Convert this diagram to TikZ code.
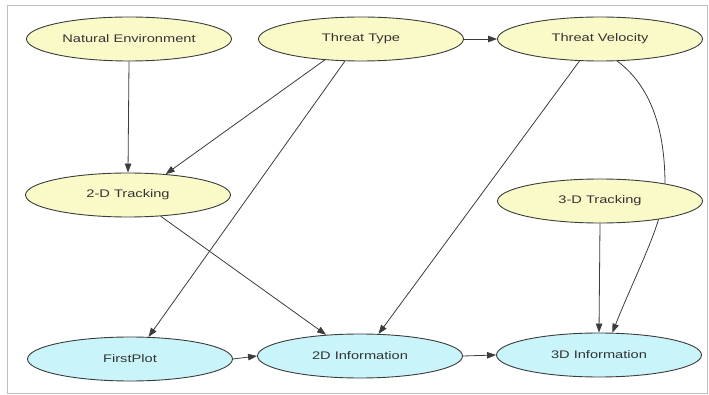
\documentclass[tikz,border=0pt]{standalone}
\usepackage{fontspec}
\setmainfont{Liberation Sans}
\newfontfamily\lblfont[FakeStretch=1.33]{Liberation Sans}
\usetikzlibrary{shapes.geometric,arrows.meta}
\pgfdeclarelayer{bg}
\pgfsetlayers{bg,main}
\definecolor{nodeyellow}{RGB}{250,250,200}
\definecolor{nodecyan}{RGB}{200,244,250}
\definecolor{edgegray}{RGB}{60,60,60}
\definecolor{framegray}{RGB}{190,190,190}
\begin{document}
\begin{tikzpicture}[x=1pt,y=-1pt,
  var/.style={ellipse,draw=edgegray,line width=0.9pt,minimum width=205pt,minimum height=44pt,inner sep=0pt,
     font=\lblfont\fontsize{11}{13}\selectfont,text=black!80},
  yel/.style={var,fill=nodeyellow},
  cya/.style={var,fill=nodecyan},
  edge/.style={draw=edgegray,line width=0.8pt,-{Triangle[length=9pt,width=6.5pt]}}]
\useasboundingbox (0,0) rectangle (709,395);
\draw[framegray,line width=1pt] (7,6) rectangle (707,393);

\node[yel] (ne)  at (129,39)  {Natural Environment};
\node[yel] (tt)  at (361,39)  {Threat Type};
\node[yel] (tv)  at (600,39)  {Threat Velocity};
\node[yel] (tdt) at (128,195) {2-D Tracking};
\node[yel] (thdt) at (600,201) {3-D Tracking};
\node[cya] (fp)  at (130,359) {FirstPlot};
\node[cya] (tdi) at (360,356) {2D Information};
\node[cya] (thdi) at (599,355) {3D Information};

\begin{pgfonlayer}{bg}
\draw[edge] (ne.south) -- (tdt.north);
\draw[edge] (tt.-150) -- (tdt.29);
\draw[edge] (tt.-126) -- (fp.50);
\draw[edge] (tt.east) -- (tv.west);
\draw[edge] (tv.-133) -- (tdi.50);
\draw[edge] (tv.-52) .. controls (656,90) and (665,140) .. (665,185)
   .. controls (665,220) and (635,275) .. (thdi.59);
\draw[edge] (thdt.south) -- (thdi.north);
\draw[edge] (tdt.-33) -- (tdi.148);
\draw[edge] (fp.east) -- (tdi.west);
\draw[edge] (tdi.east) -- (thdi.west);
\end{pgfonlayer}
\end{tikzpicture}
\end{document}
